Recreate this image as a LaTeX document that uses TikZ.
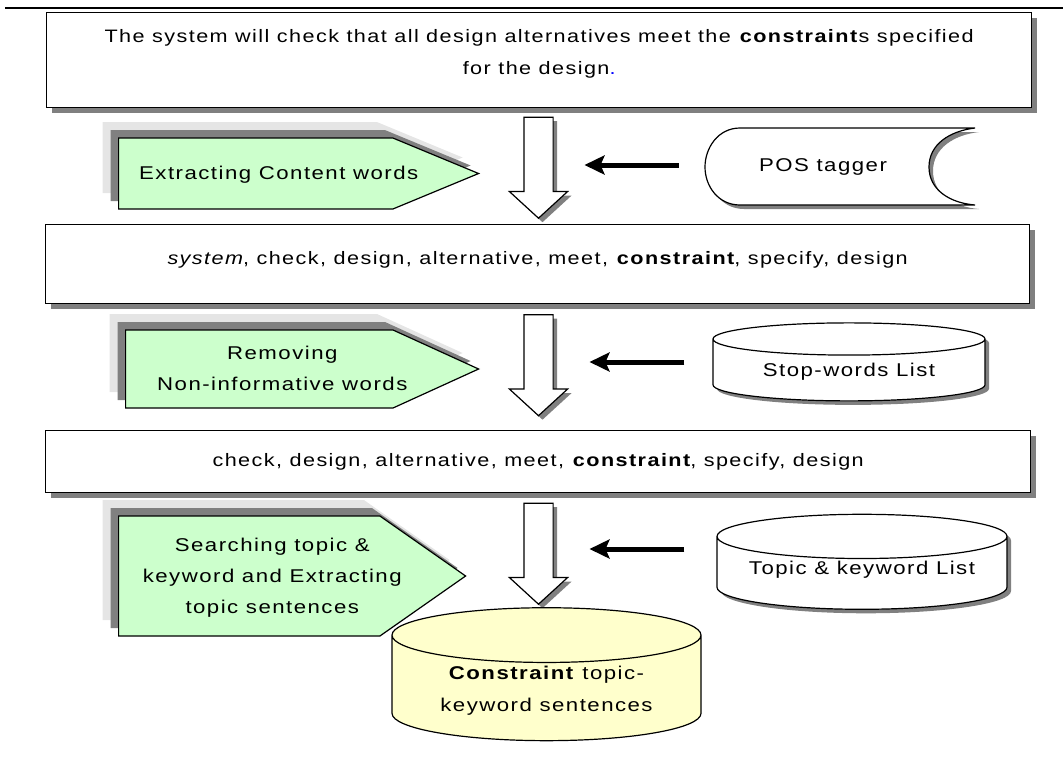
\documentclass[tikz,border=0pt]{standalone}
\usepackage{fontspec}
\setmainfont{Liberation Sans}[FakeStretch=1.2,LetterSpace=8]
\usetikzlibrary{arrows.meta,shadows,shapes.geometric,shapes.symbols,shapes.arrows}
\definecolor{stepgreen}{HTML}{CCFFCC}
\definecolor{outyellow}{HTML}{FFFFCC}
\tikzset{x=1pt,y=-1pt}
\tikzset{
  grayshade/.style={drop shadow={shadow xshift=#1,shadow yshift=-#1,fill=black!50,opacity=1}},
  textbox/.style={draw,fill=white,line width=1.3pt,anchor=north west,align=center,
    font=\fontsize{18}{32}\selectfont,grayshade=5pt},
  procstep/.style={signal,signal to=east,signal from=nowhere,draw,fill=stepgreen,line width=1.2pt,
    anchor=west,font=\fontsize{18.5}{31}\selectfont,
    copy shadow={shadow xshift=-16pt,shadow yshift=16pt,fill=black!10,draw=none},
    copy shadow={shadow xshift=-8pt,shadow yshift=8pt,fill=black!50,draw=none}},
  store/.style={cylinder,shape border rotate=90,draw,fill=white,line width=1.2pt,
    font=\fontsize{18.5}{32}\selectfont,align=center},
  hollow/.style={single arrow,draw,fill=white,line width=1.2pt,rotate=-90,
    inner xsep=0pt,inner ysep=14pt,single arrow head extend=14.5pt,
    single arrow tip angle=95,single arrow head indent=0pt,minimum height=101pt,grayshade=4pt},
  feed/.style={-{Stealth[length=20pt,width=19pt,inset=4pt]},line width=5pt}
}
% step label, moved right of the middle of the box
\newcommand\steptext[1]{\hspace*{46pt}\makebox[0pt]{\begin{tabular}{@{}c@{}}#1\end{tabular}}}
% lift a label without changing its box
\newcommand\lift[2]{\raisebox{#1}[\height][\depth]{#2}}
\begin{document}
\begin{tikzpicture}
\useasboundingbox (0,0) rectangle (1063,764);
\draw[line width=2.5pt] (5,8) -- (1063,8);

% text boxes
\node[textbox,minimum width=985pt,minimum height=95pt] (sent) at (46,12)
  {\lift{8pt}{\begin{tabular}{@{}c@{}}The system will check that all design alternatives meet the \textbf{constraint}s specified\\
   for the design{\color{blue}.}\end{tabular}}};
\node[textbox,minimum width=984pt,minimum height=79pt] (words) at (45,224)
  {\lift{4pt}{\textit{system}, check, design, alternative, meet, \textbf{constraint}, specify, design}};
\node[textbox,minimum width=985pt,minimum height=62pt] (kept) at (45,430)
  {check, design, alternative, meet, \textbf{constraint}, specify, design};

% process steps
\node[procstep,signal pointer angle=45,minimum width=360pt,minimum height=71pt] (extract) at (118,173.5)
  {\steptext{Extracting Content words}};
\node[procstep,signal pointer angle=49,minimum width=353pt,minimum height=78pt] (remove) at (125,369)
  {\steptext{Removing\\Non-informative words}};
\node[procstep,signal pointer angle=70,minimum width=347pt,minimum height=120pt] (search) at (118,576)
  {\steptext{Searching topic \&\\keyword and Extracting\\topic sentences}};

% flow arrows
\node[hollow] (dn1) at (538.5,161) {};
\node[hollow] (dn2) at (538.5,358.5) {};
\node[hollow] (dn3) at (538.5,547) {};

% resources
\draw[line width=1.2pt,fill=white,grayshade=4pt]
  (975,128) -- (740,128) .. controls (718,128) and (705,148) .. (705,167)
  .. controls (705,186) and (718,205) .. (740,205) -- (975,205)
  .. controls (950,203) and (929,190) .. (929,167)
  .. controls (929,144) and (950,131) .. (975,128);
\node[font=\fontsize{18.5}{31}\selectfont] (pos) at (823,167) {POS tagger};
\node[store,grayshade=4pt,aspect=0.18,minimum width=272pt,minimum height=78pt] (stop) at (849,372) {Stop-words List};
\node[store,grayshade=4pt,aspect=0.19,minimum width=290pt,minimum height=95pt] (topic) at (862,575.5)
  {\lift{6pt}{Topic \& keyword List}};
\node[store,aspect=0.25,minimum width=309pt,minimum height=122pt,fill=outyellow] (out) at (546.5,691)
  {\textbf{Constraint} topic-\\keyword sentences};

\path[feed] ([yshift=2pt]pos.west) edge[shorten <=77pt,shorten >=46pt] ([yshift=2pt]pos.west -| dn1);
\path[feed] ([yshift=10pt]stop.west) edge[shorten <=28pt,shorten >=51pt] ([yshift=10pt]stop.west -| dn2);
\path[feed] ([yshift=26.5pt]topic.west) edge[shorten <=32pt,shorten >=51pt] ([yshift=26.5pt]topic.west -| dn3);
\end{tikzpicture}
\end{document}
